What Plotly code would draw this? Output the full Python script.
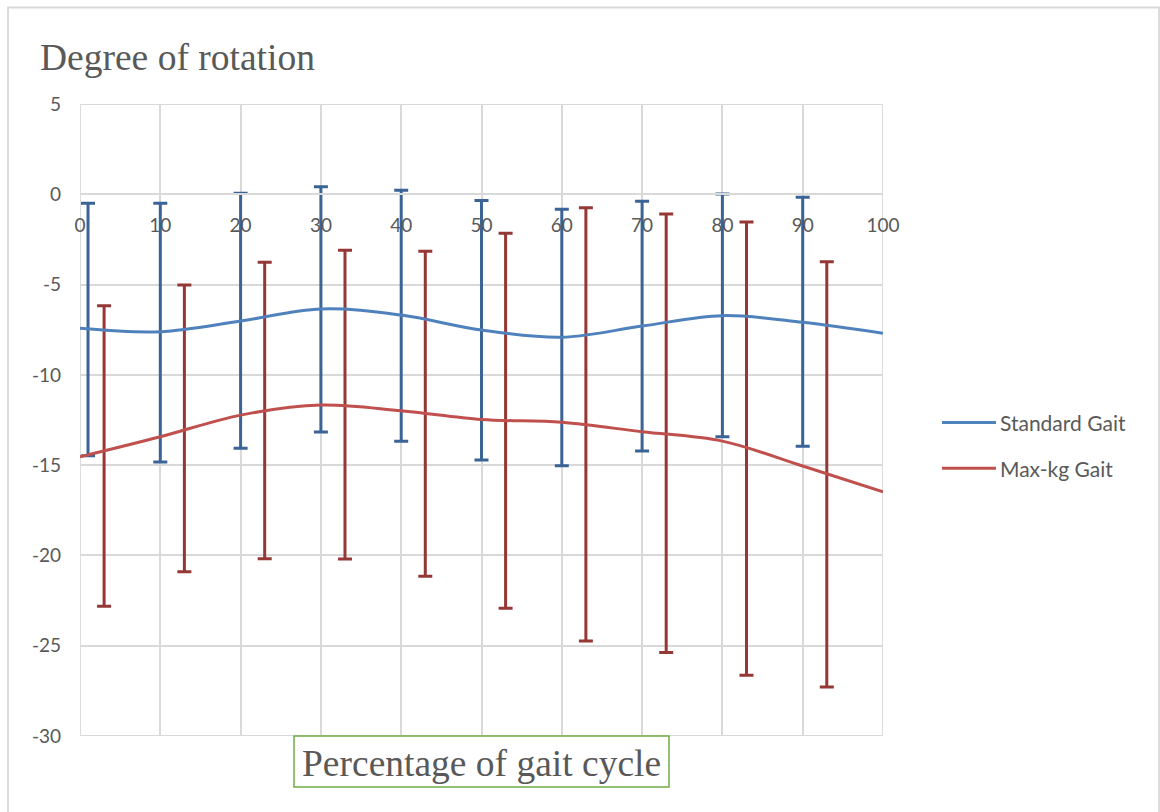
import plotly.graph_objects as go

# Mean rotation curves sampled every 10 % of the gait cycle
cycle_pct = [0, 10, 20, 30, 40, 50, 60, 70, 80, 90, 100]
standard_mean = [-7.42, -7.61, -7.02, -6.35, -6.69, -7.52, -7.92, -7.30, -6.72, -7.09, -7.70]
maxkg_mean = [-14.54, -13.43, -12.23, -11.67, -11.99, -12.47, -12.63, -13.15, -13.67, -15.05, -16.48]

# Standard deviation bars (slightly offset so both series stay readable)
standard_err_x = [1, 10, 20, 30, 40, 50, 60, 70, 80, 90]
standard_err_mean = [-7.49, -7.66, -7.00, -6.37, -6.72, -7.53, -7.93, -7.30, -6.71, -7.06]
standard_sd = [6.99, 7.16, 7.06, 6.79, 6.95, 7.19, 7.10, 6.91, 6.72, 6.89]

maxkg_err_x = [3, 13, 23, 33, 43, 53, 63, 73, 83, 93]
maxkg_err_mean = [-14.49, -12.97, -11.98, -11.65, -12.16, -12.54, -12.74, -13.23, -14.08, -15.51]
maxkg_sd = [8.32, 7.94, 8.21, 8.55, 9.00, 10.38, 12.00, 12.14, 12.55, 11.78]

series_names = ["Standard Gait", "Max-kg Gait"]
x_ticks = [0, 10, 20, 30, 40, 50, 60, 70, 80, 90, 100]
y_ticks = [5, 0, -5, -10, -15, -20, -25, -30]
y_tick_text = ["5", "0", "-5", "-10", "-15", "-20", "-25", "-30"]

BLUE_LINE = "#4F81BD"
BLUE_BAR = "#3A6396"
RED_LINE = "#C0504D"
RED_BAR = "#953735"
GRID = "#D9D9D9"
TEXT = "#595959"

W, H = 1160, 812
ML, MR, MT, MB = 80, 277, 104, 76
PW, PH = W - ML - MR, H - MT - MB


def px(x):
    return (x - ML) / PW


def py(y):
    return (H - MB - y) / PH


fig = go.Figure()

fig.add_trace(go.Scatter(
    x=standard_err_x, y=standard_err_mean, mode="markers",
    marker=dict(size=1, opacity=0), showlegend=False, hoverinfo="skip",
    error_y=dict(type="data", array=standard_sd, symmetric=True,
                 color=BLUE_BAR, thickness=3, width=7),
))
fig.add_trace(go.Scatter(
    x=maxkg_err_x, y=maxkg_err_mean, mode="markers",
    marker=dict(size=1, opacity=0), showlegend=False, hoverinfo="skip",
    error_y=dict(type="data", array=maxkg_sd, symmetric=True,
                 color=RED_BAR, thickness=3, width=7),
))
fig.add_trace(go.Scatter(
    x=cycle_pct, y=standard_mean, mode="lines", name=series_names[0],
    line=dict(color=BLUE_LINE, width=3, shape="spline", smoothing=1),
    showlegend=False,
))
fig.add_trace(go.Scatter(
    x=cycle_pct, y=maxkg_mean, mode="lines", name=series_names[1],
    line=dict(color=RED_LINE, width=3, shape="spline", smoothing=1),
    showlegend=False,
))

tick_font = dict(family="Lato, Carlito, Calibri, sans-serif", size=19, color=TEXT)
legend_font = dict(family="Lato, Carlito, Calibri, sans-serif", size=21, color=TEXT)
serif_font = dict(family="Liberation Serif, Times New Roman, serif", size=37.5, color=TEXT)

fig.update_layout(
    width=W, height=H,
    margin=dict(l=ML, r=MR, t=MT, b=MB),
    paper_bgcolor="white", plot_bgcolor="white",
    xaxis=dict(
        range=[0, 100], tickvals=x_ticks, showgrid=True, gridcolor=GRID, gridwidth=1.8,
        zeroline=False, showline=True, linecolor=GRID, linewidth=1.8,
        anchor="free", position=30 / 35, ticks="", ticklabelstandoff=14,
        tickfont=tick_font,
    ),
    yaxis=dict(
        range=[-30, 5], domain=[0, 1], tickvals=y_ticks, ticktext=y_tick_text,
        showgrid=True, gridcolor=GRID, gridwidth=1.8, zeroline=False,
        showline=False, ticks="", ticklabelstandoff=18, tickfont=tick_font,
    ),
    showlegend=False,
)

shapes = [
    # chart frame
    dict(type="rect", xref="paper", yref="paper", x0=px(8), x1=px(1159), y0=py(7.5), y1=py(830),
         line=dict(color=GRID, width=1.8), fillcolor="rgba(0,0,0,0)", layer="below"),
    # plot area outline
    dict(type="rect", xref="x", yref="y", x0=0, x1=100, y0=-30, y1=5,
         line=dict(color=GRID, width=1.8), fillcolor="rgba(0,0,0,0)", layer="below"),
    # box round the horizontal axis title
    dict(type="rect", xref="paper", yref="paper", x0=px(294), x1=px(669), y0=py(736), y1=py(787),
         line=dict(color="#70AD47", width=1.5), fillcolor="white"),
    # legend keys
    dict(type="line", xref="paper", yref="paper", x0=px(942), x1=px(996), y0=py(422.5), y1=py(422.5),
         line=dict(color=BLUE_LINE, width=3)),
    dict(type="line", xref="paper", yref="paper", x0=px(942), x1=px(996), y0=py(468.3), y1=py(468.3),
         line=dict(color=RED_LINE, width=3)),
]
fig.update_layout(shapes=shapes)

annotations = [
    dict(text="Degree of rotation", xref="paper", yref="paper", x=px(38), y=py(57),
         xanchor="left", yanchor="middle", showarrow=False, font=serif_font),
    dict(text="Percentage of gait cycle", xref="paper", yref="paper", x=px(481.5), y=py(763),
         xanchor="center", yanchor="middle", showarrow=False, font=serif_font),
    dict(text=series_names[0], xref="paper", yref="paper", x=px(998), y=py(422.5),
         xanchor="left", yanchor="middle", showarrow=False, font=legend_font),
    dict(text=series_names[1], xref="paper", yref="paper", x=px(998), y=py(468.3),
         xanchor="left", yanchor="middle", showarrow=False, font=legend_font),
]
fig.update_layout(annotations=annotations)

fig.write_html("out.html")
